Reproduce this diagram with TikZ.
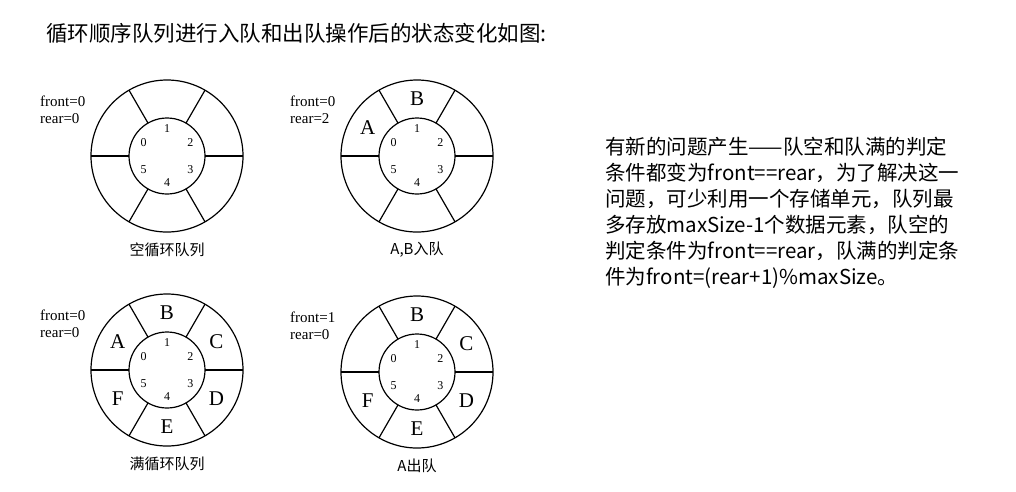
\documentclass[tikz,border=0pt]{standalone}
\usepackage{fontspec}
\setmainfont{Liberation Serif}
\newfontfamily\cjk{Noto Sans CJK SC}
\begin{document}
\begin{tikzpicture}[x=1pt,y=-1pt,
  ringline/.style={line width=1.2pt},
  idx/.style={font=\fontsize{12}{12}\selectfont},
  letter/.style={font=\fontsize{21}{21}\selectfont},
  ptr/.style={font=\fontsize{15}{17}\selectfont,align=left,anchor=north west,inner sep=0pt},
  captxt/.style={font=\cjk\fontsize{15}{15}\selectfont}]
\useasboundingbox[fill=white] (0,0) rectangle (1016,491);
\node[anchor=west,font=\cjk\fontsize{21.5}{22}\selectfont,inner sep=0] (title) at (46,33) {循环顺序队列进行入队和出队操作后的状态变化如图:};
\newcommand{\myring}[5]{%
 \begin{scope}[shift={(#1,#2)}]
  \draw[ringline] (0,0) circle[radius=76];
  \draw[ringline] (0,0) circle[radius=38];
  \foreach \a in {0,60,...,300} \draw[ringline] (\a:38) -- (\a:76);
  \foreach \i/\a in {0/150,1/90,2/30,3/-30,4/-90,5/210} \node[idx] at ({-\a}:27) {\i};
  \node[ptr] at (-127,-60) {#3};
  \node[captxt] at (0,94) {#4};
  \foreach \l/\a in {#5} \node[letter] at ({-\a}:57) {\l};
 \end{scope}}
\myring{167}{156}{front=0\\rear=0}{空循环队列}{/90}
\myring{417}{156}{front=0\\rear=2}{A,B入队}{A/150,B/90}
\myring{167}{370}{front=0\\rear=0}{满循环队列}{A/150,B/90,C/30,D/-30,E/-90,F/210}
\myring{417}{372}{front=1\\rear=0}{A出队}{B/90,C/30,D/-30,E/-90,F/210}
\node[anchor=north west,align=left,inner sep=0,font=\cjk\fontsize{20.5}{26}\selectfont] (txt) at (605,137) {有新的问题产生——队空和队满的判定\\条件都变为front==rear，为了解决这一\\问题，可少利用一个存储单元，队列最\\多存放maxSize-1个数据元素，队空的\\判定条件为front==rear，队满的判定条\\件为front=(rear+1)\%maxSize。};
\end{tikzpicture}
\end{document}
